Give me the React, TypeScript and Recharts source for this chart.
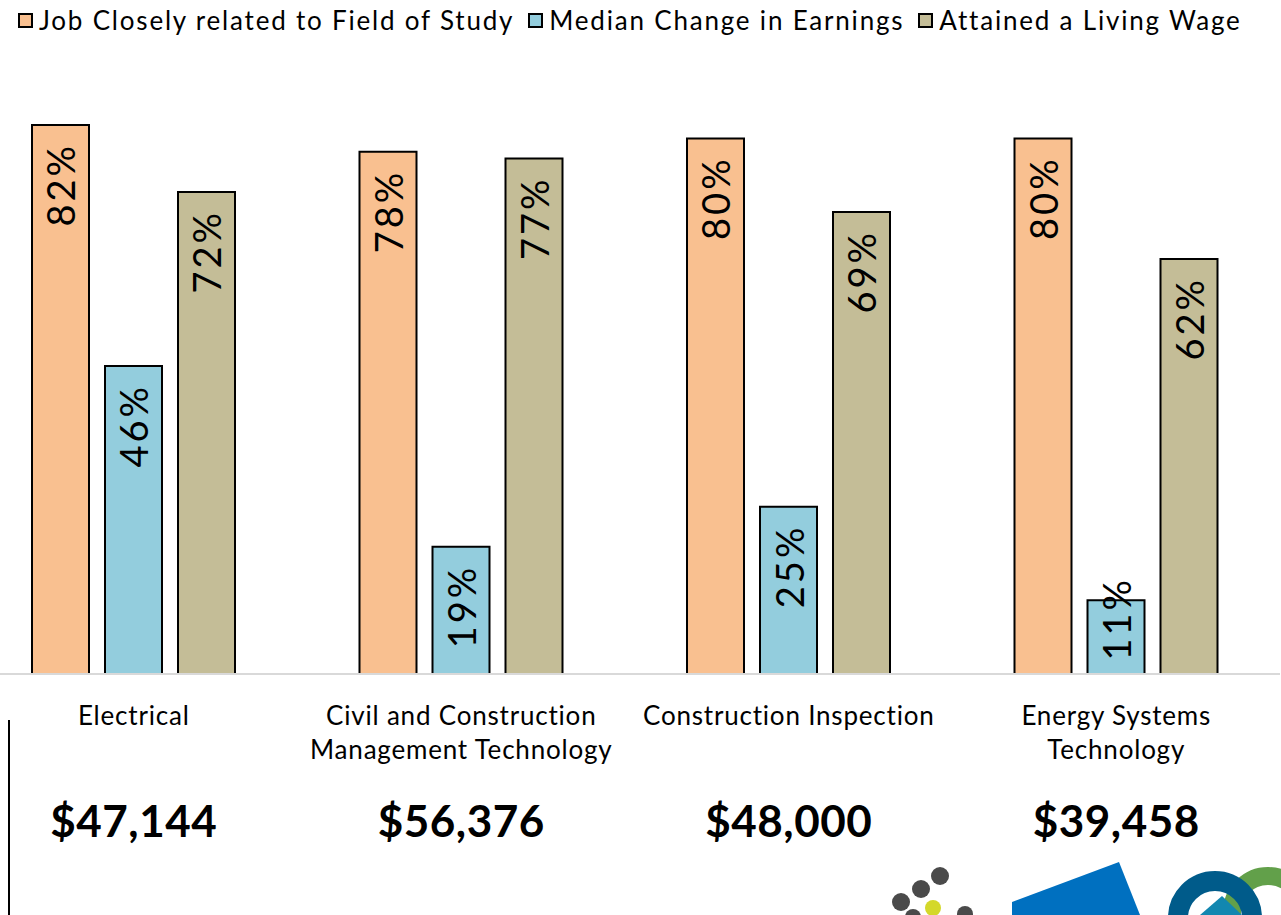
import React from "react";
import { BarChart, Bar, XAxis, YAxis, Legend, LabelList } from "recharts";

const categories = [
  "Electrical",
  "Civil and Construction\nManagement Technology",
  "Construction Inspection",
  "Energy Systems\nTechnology",
];
const relatedJob = [82, 78, 80, 80];
const earningsChange = [46, 19, 25, 11];
const livingWage = [72, 77, 69, 62];
const medianSalary = ["$47,144", "$56,376", "$48,000", "$39,458"];

const series = [
  { key: "related", name: "Job Closely related to Field of Study", color: "#F9C090" },
  { key: "earnings", name: "Median Change in Earnings", color: "#93CDDD" },
  { key: "wage", name: "Attained a Living Wage", color: "#C4BD97" },
];

const data = categories.map((name, i) => ({
  name,
  related: relatedJob[i],
  earnings: earningsChange[i],
  wage: livingWage[i],
  salary: medianSalary[i],
}));

const FONT = "Lato, 'Open Sans', sans-serif";

const BarLabel = (props: any) => {
  const { x, y, width, height, value } = props;
  const cx = x + width / 2;
  // label sits near the top; if the bar is too short it gets pushed up
  const ty = Math.min(y + 18, y + height - 97);
  return (
    <text
      x={cx}
      y={ty}
      transform={`rotate(-90 ${cx} ${ty})`}
      textAnchor="end"
      dominantBaseline="central"
      fontSize={38}
      letterSpacing={3}
      fontFamily={FONT}
      fill="#000"
    >
      {value}%
    </text>
  );
};

const CategoryTick = (props: any) => {
  const { x, y, payload, index } = props;
  const lines = String(payload.value).split("\n");
  const salary = medianSalary[index ?? payload.index ?? 0];
  return (
    <g>
      {lines.map((line, i) => (
        <text
          key={i}
          x={x}
          y={y + 33 + i * 34}
          textAnchor="middle"
          dominantBaseline="central"
          fontSize={26}
          letterSpacing={0.8}
          fontFamily={FONT}
          fill="#000"
        >
          {line}
        </text>
      ))}
      <text
        x={x}
        y={y + 138}
        textAnchor="middle"
        dominantBaseline="central"
        fontSize={44}
        fontWeight={700}
        letterSpacing={0.5}
        fontFamily={FONT}
        fill="#000"
      >
        {salary}
      </text>
    </g>
  );
};

const LegendContent = () => (
  <div
    style={{
      display: "flex",
      alignItems: "center",
      fontFamily: FONT,
      fontSize: 26,
      letterSpacing: 1.8,
      color: "#000",
      whiteSpace: "nowrap",
    }}
  >
    {series.map((s) => (
      <div key={s.key} style={{ display: "flex", alignItems: "center", marginRight: 14 }}>
        <span
          style={{
            display: "inline-block",
            width: 11,
            height: 11,
            background: s.color,
            border: "2px solid #000",
            marginRight: 6,
          }}
        />
        <span>{s.name}</span>
      </div>
    ))}
  </div>
);

const Logos = () => (
  <svg width={1281} height={915} style={{ position: "absolute", left: 0, top: 0, pointerEvents: "none" }}>
    <line x1={9} y1={720} x2={9} y2={915} stroke="#000" strokeWidth={2} />
    <circle cx={940} cy={876} r={9} fill="#4a4a4a" />
    <circle cx={921} cy={889} r={9} fill="#4a4a4a" />
    <circle cx={901} cy={902} r={9} fill="#4a4a4a" />
    <circle cx={933} cy={908} r={8} fill="#d4d82a" />
    <circle cx={965} cy={914} r={8} fill="#4a4a4a" />
    <circle cx={913} cy={917} r={8} fill="#4a4a4a" />
    <polygon points="1012,902 1119,862 1140,915 1012,915" fill="#0070C0" />
    <circle cx={1268} cy={912} r={36} fill="none" stroke="#62A04A" strokeWidth={18} />
    <circle cx={1215} cy={918} r={37} fill="none" stroke="#005B8A" strokeWidth={20} />
    <polygon points="1200,915 1222,896 1242,915" fill="#1287B0" />
  </svg>
);

export default function App() {
  return (
    <div
      style={{
        position: "fixed",
        left: 0,
        top: 0,
        width: 1281,
        height: 915,
        overflow: "hidden",
        background: "#fff",
      }}
    >
      <div style={{ position: "absolute", left: -40, top: 0 }}>
        <BarChart
          width={1330}
          height={915}
          data={data}
          margin={{ top: 4.5, right: 10, bottom: 0, left: 10 }}
          barSize={57}
          barGap={16}
        >
          <XAxis
            dataKey="name"
            height={241}
            tickLine={false}
            axisLine={{ stroke: "#D9D9D9", strokeWidth: 2 }}
            tick={<CategoryTick />}
            interval={0}
          />
          <YAxis hide domain={[0, 100]} />
          <Legend
            verticalAlign="middle"
            align="center"
            content={<LegendContent />}
            wrapperStyle={{ top: 4, left: 58, width: "auto" }}
          />
          {series.map((s) => (
            <Bar
              key={s.key}
              dataKey={s.key}
              name={s.name}
              fill={s.color}
              stroke="#000"
              strokeWidth={2}
              isAnimationActive={false}
            >
              <LabelList dataKey={s.key} content={<BarLabel />} />
            </Bar>
          ))}
        </BarChart>
      </div>
      <Logos />
    </div>
  );
}
